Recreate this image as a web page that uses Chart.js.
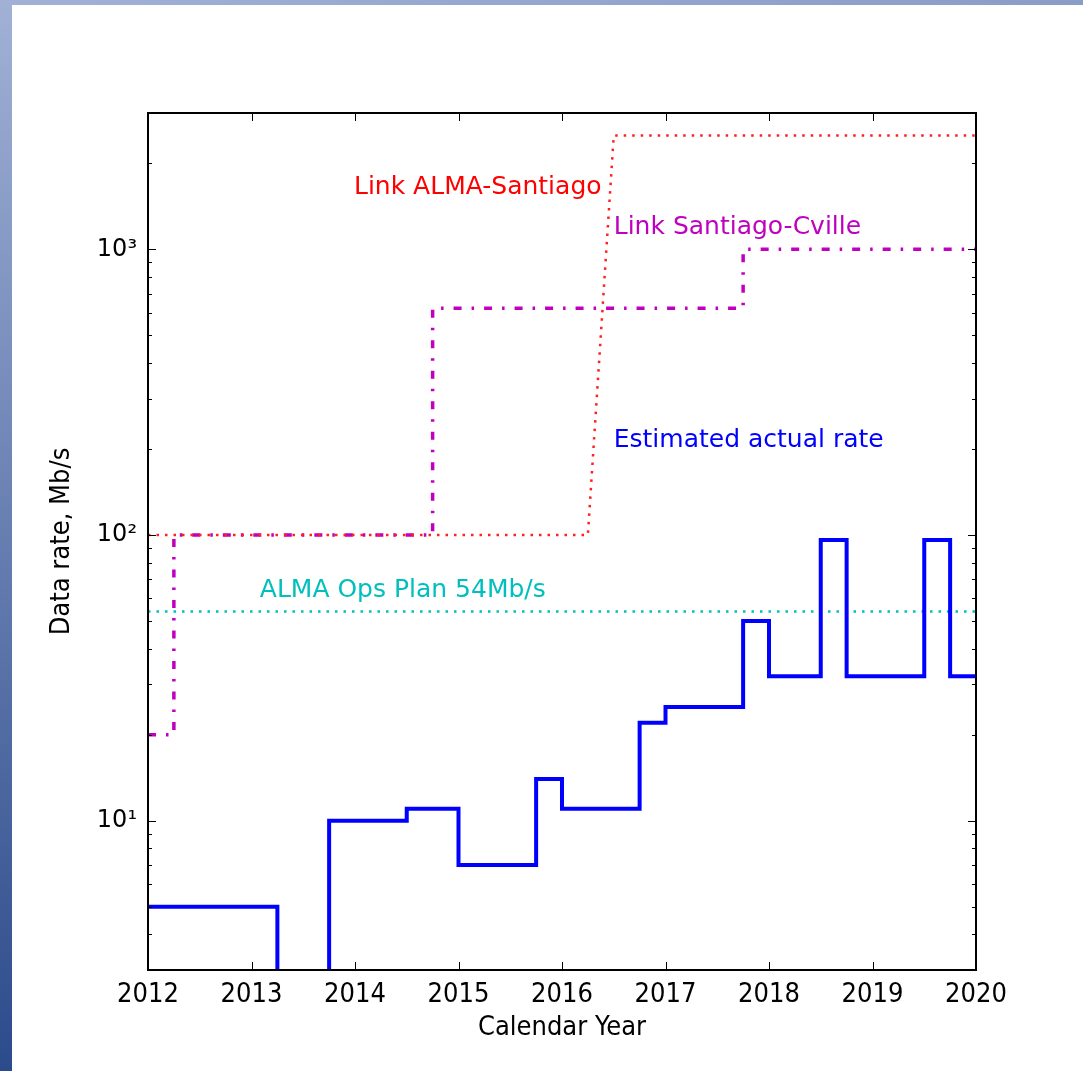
<!DOCTYPE html>
<html>
<head>
<meta charset="utf-8">
<script src="https://cdn.jsdelivr.net/npm/chart.js@4/dist/chart.umd.min.js"></script>
<style>
    html, body { margin: 0; padding: 0; }
    body {
        width: 1083px; height: 1071px; position: relative; overflow: hidden;
        background: linear-gradient(to bottom, #a1b1d6, #2c4b8b);
    }
    #topStrip {
        position: absolute; left: 0; top: 0; width: 1083px; height: 5px;
        background: linear-gradient(to right, #a1b1d6, #8a9cc8);
    }
    #panel { position: absolute; left: 12px; top: 5px; right: 0; bottom: 0; background: #fff; }
    #rateChart { position: absolute; left: 0; top: 0; }
</style>
</head>
<body>
<div id="topStrip"></div>
<div id="panel"></div>
<canvas id="rateChart" width="1083" height="1071"></canvas>
<script>
// Estimated actual rate (step starts, Mb/s)
const actualYears = [2012, 2013.25, 2013.75, 2014.5, 2015, 2015.75, 2016, 2016.75, 2017, 2017.75, 2018, 2018.5, 2018.75, 2019.5, 2019.75, 2020];
const actualRate  = [5, 1, 10, 11, 7, 14, 11, 22, 25, 50, 32, 96, 32, 96, 32, 32];

// Link ALMA-Santiago
const almaLinkYears = [2012, 2016.25, 2016.5, 2020];
const almaLinkRate  = [100, 100, 2500, 2500];

// Link Santiago-Cville (step starts)
const cvilleYears = [2012, 2012.25, 2014.75, 2017.75, 2020];
const cvilleRate  = [20, 100, 622, 1000, 1000];

// ALMA Ops Plan
const opsPlanYears = [2012, 2020];
const opsPlanRate  = [54, 54];

const xTickYears = [2012, 2013, 2014, 2015, 2016, 2017, 2018, 2019, 2020];
const yMajorTicks = [10, 100, 1000];

// text labels placed in data coordinates
const noteText  = ['Link ALMA-Santiago', 'Link Santiago-Cville', 'Estimated actual rate', 'ALMA Ops Plan 54Mb/s'];
const noteYear  = [2013.99, 2016.5, 2016.5, 2013.08];
const noteRate  = [1640, 1194, 214, 64];
const noteColor = ['#ff0000', '#bf00bf', '#0000ff', '#00bfbf'];

function toPoints(xs, ys) {
    return xs.map((x, i) => ({ x: x, y: ys[i] }));
}

const supDigits = { 0: '\u2070', 1: '\u00b9', 2: '\u00b2', 3: '\u00b3' };

// frame, inward ticks and text labels
const framePlugin = {
    id: 'framePlugin',
    afterDatasetsDraw(chart) {
        const ctx = chart.ctx;
        const xs = chart.scales.x;
        const ys = chart.scales.y;
        ctx.save();
        ctx.font = '25px "DejaVu Sans"';
        ctx.textAlign = 'left';
        ctx.textBaseline = 'middle';
        noteText.forEach((t, i) => {
            ctx.fillStyle = noteColor[i];
            ctx.fillText(t, xs.getPixelForValue(noteYear[i]), ys.getPixelForValue(noteRate[i]));
        });
        ctx.restore();
    },
    afterDraw(chart) {
        const ctx = chart.ctx;
        const area = chart.chartArea;
        const xs = chart.scales.x;
        const ys = chart.scales.y;
        ctx.save();
        ctx.strokeStyle = '#000';
        ctx.lineWidth = 1;
        ctx.beginPath();
        xTickYears.forEach(v => {
            const px = Math.round(xs.getPixelForValue(v)) + 0.5;
            ctx.moveTo(px, area.bottom); ctx.lineTo(px, area.bottom - 8);
            ctx.moveTo(px, area.top); ctx.lineTo(px, area.top + 8);
        });
        for (let d = 1; d <= 1000; d *= 10) {
            for (let k = 1; k <= 9; k++) {
                const v = k * d;
                if (v < ys.min || v > ys.max) continue;
                const len = k === 1 ? 8 : 4;
                const py = Math.round(ys.getPixelForValue(v)) + 0.5;
                ctx.moveTo(area.left, py); ctx.lineTo(area.left + len, py);
                ctx.moveTo(area.right, py); ctx.lineTo(area.right - len, py);
            }
        }
        ctx.stroke();
        ctx.lineWidth = 2;
        ctx.strokeRect(area.left, area.top, area.right - area.left, area.bottom - area.top);
        ctx.restore();
    }
};

const rateChart = new Chart(document.getElementById('rateChart'), {
    type: 'line',
    data: {
        datasets: [{
            label: 'Estimated actual rate',
            data: toPoints(actualYears, actualRate),
            borderColor: '#0000ff',
            borderWidth: 4,
            stepped: 'before',
            pointRadius: 0
        }, {
            label: 'ALMA Ops Plan 54Mb/s',
            data: toPoints(opsPlanYears, opsPlanRate),
            borderColor: '#00bfbf',
            borderWidth: 2.5,
            borderDash: [2.5, 6],
            pointRadius: 0
        }, {
            label: 'Link ALMA-Santiago',
            data: toPoints(almaLinkYears, almaLinkRate),
            borderColor: '#ff2020',
            borderWidth: 2.5,
            borderDash: [2.5, 6],
            tension: 0,
            pointRadius: 0
        }, {
            label: 'Link Santiago-Cville',
            data: toPoints(cvilleYears, cvilleRate),
            borderColor: '#bf00bf',
            borderWidth: 3.5,
            borderDash: [8, 10, 2.5, 10],
            stepped: 'before',
            pointRadius: 0
        }]
    },
    options: {
        responsive: false,
        animation: false,
        events: [],
        layout: {
            padding: { top: 113, right: 107, left: 0, bottom: 0 }
        },
        plugins: {
            legend: { display: false },
            tooltip: { enabled: false }
        },
        scales: {
            x: {
                type: 'linear',
                min: 2012,
                max: 2020,
                afterFit: function(scale) { scale.height = 101; },
                afterBuildTicks: function(scale) {
                    scale.ticks = xTickYears.map(v => ({ value: v }));
                },
                grid: { display: false, drawTicks: false },
                border: { display: false },
                ticks: {
                    color: '#000',
                    padding: 9,
                    maxRotation: 0,
                    font: { family: '"DejaVu Sans Condensed", "DejaVu Sans"', size: 27 },
                    callback: function(value) { return String(value); }
                },
                title: {
                    display: true,
                    text: 'Calendar Year',
                    color: '#000',
                    font: { family: '"DejaVu Sans Condensed", "DejaVu Sans"', size: 27 },
                    padding: { top: 0, bottom: 27 }
                }
            },
            y: {
                type: 'logarithmic',
                min: 3,
                max: 3000,
                afterFit: function(scale) { scale.width = 148; },
                afterBuildTicks: function(scale) {
                    scale.ticks = yMajorTicks.map(v => ({ value: v }));
                },
                grid: { display: false, drawTicks: false },
                border: { display: false },
                ticks: {
                    color: '#000',
                    padding: 11,
                    font: { family: '"DejaVu Sans"', size: 24 },
                    callback: function(value) {
                        return '10' + supDigits[Math.round(Math.log10(value))];
                    }
                },
                title: {
                    display: true,
                    text: 'Data rate, Mb/s',
                    color: '#000',
                    font: { family: '"DejaVu Sans Condensed", "DejaVu Sans"', size: 27 },
                    padding: { top: 46, bottom: 0 }
                }
            }
        }
    },
    plugins: [framePlugin]
});
</script>
</body>
</html>
